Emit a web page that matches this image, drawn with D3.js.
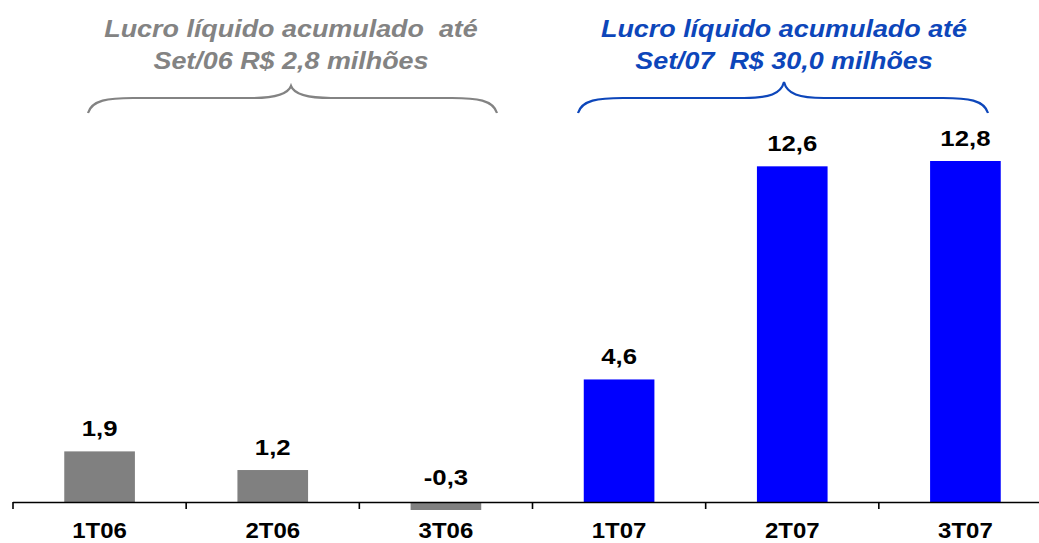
<!DOCTYPE html>
<html>
<head>
<meta charset="utf-8">
<script src="https://cdn.jsdelivr.net/npm/d3@7"></script>
<style>
  html, body { margin: 0; padding: 0; background: #fff; }
  svg { display: block; font-family: "Liberation Sans", Arial, sans-serif; }
</style>
</head>
<body>
<div id="chart"></div>
<script>
const categories = ["1T06", "2T06", "3T06", "1T07", "2T07", "3T07"];
const values = [1.9, 1.2, -0.3, 4.6, 12.6, 12.8];
const valueLabels = ["1,9", "1,2", "-0,3", "4,6", "12,6", "12,8"];
const years = ["2006", "2006", "2006", "2007", "2007", "2007"];

const titles2006 = ["Lucro líquido acumulado  até", "Set/06 R$ 2,8 milhões"];
const titles2007 = ["Lucro líquido acumulado até", "Set/07  R$ 30,0 milhões"];

const width = 1039;
const height = 543;

const barColor = { "2006": "#808080", "2007": "#0000ff" };

const svg = d3
  .select("#chart")
  .append("svg")
  .attr("width", width)
  .attr("height", height)
  .attr("viewBox", [0, 0, width, height]);

const x = d3
  .scaleBand()
  .domain(categories)
  .range([13, 1052])
  .paddingInner(0.592)
  .paddingOuter(0.296);

// outer scale gives the tick positions between categories
const xOuter = d3.scaleBand().domain(categories).range([13, 1052]);

const y = d3.scaleLinear().domain([0, 12.8]).range([502, 161]);

const data = categories.map((c, i) => ({
  cat: c,
  value: values[i],
  label: valueLabels[i],
  year: years[i],
}));

// bars
svg
  .append("g")
  .selectAll("rect")
  .data(data)
  .join("rect")
  .attr("x", (d) => x(d.cat))
  .attr("width", x.bandwidth())
  .attr("y", (d) => y(Math.max(0, d.value)))
  .attr("height", (d) => Math.abs(y(d.value) - y(0)))
  .attr("fill", (d) => barColor[d.year]);

// axis line + ticks
const gAxis = svg.append("g").attr("stroke", "#000").attr("stroke-width", 1.6);
gAxis
  .append("line")
  .attr("x1", xOuter.range()[0])
  .attr("x2", xOuter.range()[1])
  .attr("y1", y(0) + 0.5)
  .attr("y2", y(0) + 0.5);
const tickXs = categories.map((c) => xOuter(c)).concat([xOuter.range()[1]]);
gAxis
  .selectAll("line.tick")
  .data(tickXs)
  .join("line")
  .attr("class", "tick")
  .attr("x1", (d) => d)
  .attr("x2", (d) => d)
  .attr("y1", y(0))
  .attr("y2", y(0) + 7);

function stretched(sel, sx) {
  sel.attr("transform", (d, i, n) => {
    const el = d3.select(n[i]);
    return `translate(${el.attr("data-x")},${el.attr("data-y")}) scale(${sx},1)`;
  });
}

// value labels
svg
  .append("g")
  .selectAll("text")
  .data(data)
  .join("text")
  .attr("data-x", (d) => x(d.cat) + x.bandwidth() / 2)
  .attr("data-y", (d) => (d.value >= 0 ? y(d.value) - 15 : y(0) - 17))
  .attr("text-anchor", "middle")
  .attr("font-size", 22)
  .attr("font-weight", "bold")
  .attr("fill", "#000")
  .text((d) => d.label)
  .call(stretched, 1.17);

// category labels
svg
  .append("g")
  .selectAll("text")
  .data(data)
  .join("text")
  .attr("data-x", (d) => x(d.cat) + x.bandwidth() / 2)
  .attr("data-y", 538)
  .attr("text-anchor", "middle")
  .attr("font-size", 22)
  .attr("font-weight", "bold")
  .attr("fill", "#000")
  .text((d) => d.cat)
  .call(stretched, 1.09);

// brace annotations above each year group
const annotations = [
  { lines: titles2006, color: "#838383", x0: 88, x1: 497, xc: 291, apex: 86 },
  { lines: titles2007, color: "#0d46ba", x0: 578, x1: 988, xc: 784, apex: 82 },
];

annotations.forEach((a) => {
  const g = svg.append("g");
  g.selectAll("text")
    .data(a.lines)
    .join("text")
    .attr("data-x", a.xc)
    .attr("data-y", (d, i) => 37 + i * 32)
    .attr("text-anchor", "middle")
    .attr("font-size", 23)
    .attr("font-weight", "bold")
    .attr("font-style", "italic")
    .attr("fill", a.color)
    .attr("xml:space", "preserve")
    .style("white-space", "pre")
    .text((d) => d)
    .call(stretched, 1.17);

  const yEnd = 113;
  const yFlat = 98;
  const path = d3.path();
  path.moveTo(a.x0, yEnd);
  path.bezierCurveTo(a.x0 + 4, yFlat + 2, a.x0 + 20, yFlat, a.x0 + 45, yFlat);
  path.lineTo(a.xc - 40, yFlat);
  path.bezierCurveTo(a.xc - 15, yFlat, a.xc - 3, yFlat - 4, a.xc, a.apex);
  path.bezierCurveTo(a.xc + 3, yFlat - 4, a.xc + 15, yFlat, a.xc + 40, yFlat);
  path.lineTo(a.x1 - 45, yFlat);
  path.bezierCurveTo(a.x1 - 20, yFlat, a.x1 - 4, yFlat + 2, a.x1, yEnd);
  g.append("path")
    .attr("d", path.toString())
    .attr("fill", "none")
    .attr("stroke", a.color)
    .attr("stroke-width", 2.2);
});
</script>
</body>
</html>
